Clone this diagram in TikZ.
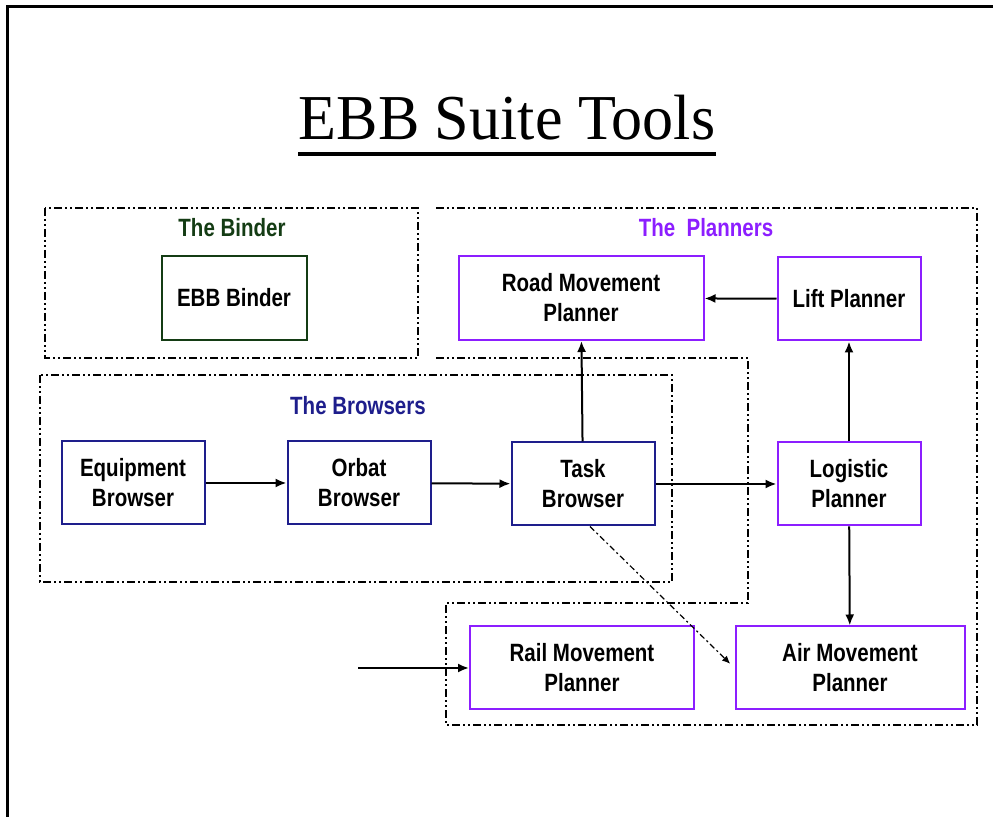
\documentclass[tikz,border=0pt]{standalone}
\usepackage{fontspec}
\usepackage{tikz}
\usetikzlibrary{arrows.meta}
\setmainfont{Liberation Serif}
\newfontfamily\boxfont[FakeStretch=0.82]{Liberation Sans}
\newfontfamily\titlefont[FakeStretch=0.97]{Liberation Serif}

\definecolor{bindergreen}{RGB}{20,60,20}
\definecolor{browserblue}{RGB}{30,30,140}
\definecolor{plannerpurple}{RGB}{140,30,255}

\tikzset{every node/.append style={font=\boxfont\bfseries\fontsize{12.5}{15}\selectfont}}
\tikzset{
  toolbox/.style={draw, line width=1pt, align=center, minimum width=71.5pt, minimum height=41.5pt, inner sep=2pt},
  groupline/.style={line width=0.9pt, dash pattern=on 4pt off 1.5pt on 1pt off 1.5pt on 1pt off 1.5pt},
  flow/.style={line width=1pt, -{Latex[length=5.5pt,width=4.5pt]}},
  thinflow/.style={line width=0.6pt, dash pattern=on 3pt off 1.5pt on 1pt off 1.5pt, -{Latex[length=4pt,width=3.5pt]}}
}

\begin{document}
\begin{tikzpicture}[x=0.5pt, y=-0.5pt]
    \useasboundingbox (0,0) rectangle (993,817);
    \draw[line width=1.5pt] (7,817) -- (7,7) -- (993,7);

    \node[anchor=base, inner sep=0pt, font=\titlefont\fontsize{32}{38}\selectfont] (title) at (507,140) {EBB Suite Tools};
    \draw[line width=2pt] ([yshift=-7pt]title.base west) -- ([yshift=-7pt]title.base east);

    % dotted groups
    \draw[groupline] (45,208) rectangle (418,358);
    \draw[groupline] (40,375) rectangle (672,582);
    \draw[groupline] (436,208) -- (977,208) -- (977,725) -- (446,725) -- (446,603)
      -- (748,603) -- (748,358) -- (436,358);

    \node[text=bindergreen] (bindertitle) at (232,228) {The Binder};
    \node[text=browserblue] (browsertitle) at (358,406) {The Browsers};
    \node[text=plannerpurple] (plannertitle) at (706,228) {The\ \ Planners};

    \node[toolbox, draw=bindergreen, minimum width=72.5pt, minimum height=42pt] (binder) at (234,298) {EBB Binder};

    \node[toolbox, draw=browserblue] (equip) at (133,483) {Equipment\\Browser};
    \node[toolbox, draw=browserblue] (orbat) at (359,483) {Orbat\\Browser};
    \node[toolbox, draw=browserblue] (task) at (583,484) {Task\\Browser};

    \node[toolbox, draw=plannerpurple, minimum width=122.5pt, minimum height=42pt] (road) at (581,298) {Road Movement\\Planner};
    \node[toolbox, draw=plannerpurple] (lift) at (849,299) {Lift Planner};
    \node[toolbox, draw=plannerpurple] (logistic) at (849,484) {Logistic\\Planner};
    \node[toolbox, draw=plannerpurple, minimum width=112pt] (rail) at (582,668) {Rail Movement\\Planner};
    \node[toolbox, draw=plannerpurple, minimum width=114.5pt] (air) at (850,668) {Air Movement\\Planner};

    \coordinate (railin) at (358,668);

    \draw[flow] (equip) -- (orbat);
    \draw[flow] (orbat) -- (task);
    \draw[flow] (task) -- (logistic);
    \draw[flow] (task) -- (road);
    \draw[flow] (lift) -- (road);
    \draw[flow] (logistic) -- (lift);
    \draw[flow] (logistic) -- (air);
    \draw[flow] (railin) -- (rail);
    \draw[thinflow, shorten >=3pt] ([xshift=3.5pt]task.south) -- (air.west);

  \end{tikzpicture}
\end{document}
